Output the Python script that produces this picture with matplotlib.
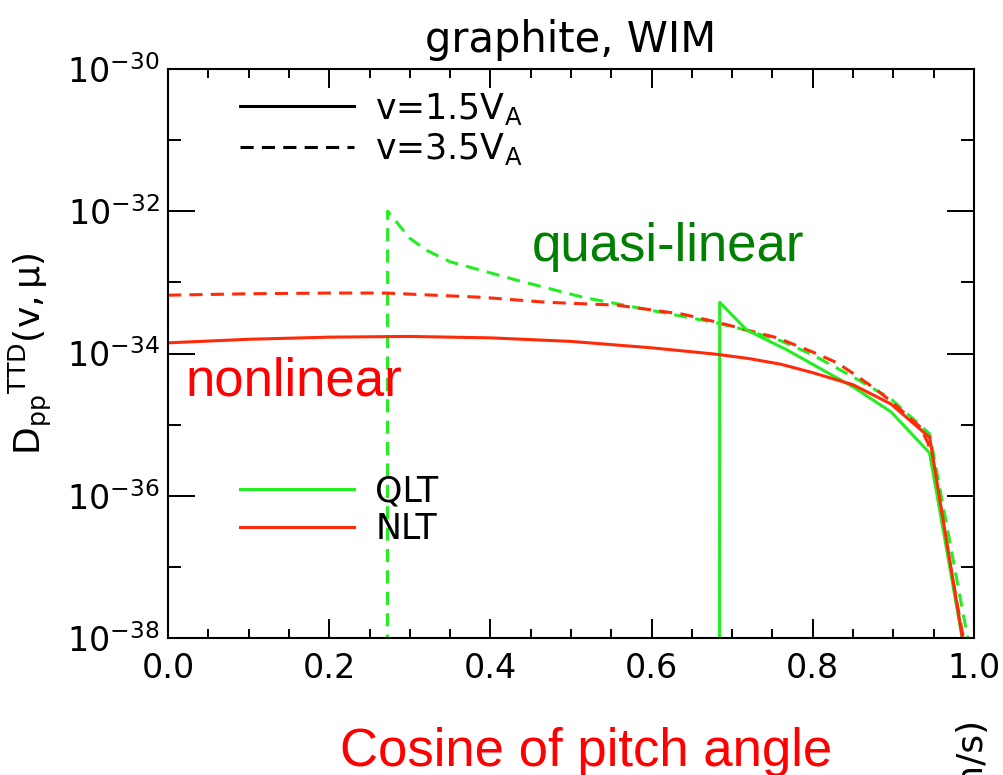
import matplotlib
matplotlib.use("Agg")
import matplotlib.pyplot as plt
from matplotlib.lines import Line2D
from matplotlib.ticker import FixedLocator, MultipleLocator, NullFormatter, FormatStrFormatter
import numpy as np

# ── data (log10 of D_pp) ──────────────────────────────────────────────
mu_nlt_15 = [0.0, 0.1, 0.2, 0.3, 0.4, 0.5, 0.6, 0.68, 0.72, 0.76, 0.80, 0.85,
             0.897, 0.945, 0.99]
lg_nlt_15 = [-33.85, -33.80, -33.77, -33.76, -33.78, -33.83, -33.92, -34.01,
             -34.07, -34.15, -34.27, -34.44, -34.71, -35.18, -38.3]

mu_nlt_35 = [0.0, 0.1, 0.2, 0.27, 0.39, 0.47, 0.557, 0.64, 0.685, 0.718, 0.756,
             0.80, 0.83, 0.85, 0.879, 0.90, 0.933, 0.943, 0.99]
lg_nlt_35 = [-33.18, -33.16, -33.15, -33.15, -33.21, -33.28, -33.32, -33.45, -33.57,
             -33.67, -33.78, -33.98, -34.13, -34.28, -34.51, -34.70, -35.03, -35.26, -38.2]

mu_qlt_15 = [0.684, 0.6845, 0.718, 0.768, 0.85, 0.897, 0.945, 0.99]
lg_qlt_15 = [-45.0, -33.28, -33.67, -33.95, -34.47, -34.82, -35.40, -38.3]

mu_qlt_35 = [0.272, 0.2725, 0.30, 0.321, 0.35, 0.433, 0.515, 0.598, 0.681,
             0.72, 0.76, 0.80, 0.85, 0.896, 0.945, 0.995]
lg_qlt_35 = [-45.0, -32.0, -32.38, -32.55, -32.71, -32.97, -33.21, -33.39, -33.57,
             -33.68, -33.82, -34.02, -34.33, -34.63, -35.13, -38.17]

y_major = [1e-38, 1e-36, 1e-34, 1e-32, 1e-30]
y_minor = [1e-37, 1e-35, 1e-33, 1e-31]

# ── style ────────────────────────────────────────────────────────────
GREEN = "#22ee22"
RED = "#ff2a0a"
DARK_GREEN = "#008000"
LW = 2.2
DASH = (4.3, 2.7)

plt.rcParams["font.family"] = "DejaVu Sans"

fig = plt.figure(figsize=(10.04, 7.75), dpi=100)
ax = fig.add_axes([168 / 1004, 137 / 775, 806 / 1004, 569 / 775])

ax.plot(mu_qlt_35, 10.0 ** np.array(lg_qlt_35), color=GREEN, lw=LW, dashes=DASH)
ax.plot(mu_nlt_35, 10.0 ** np.array(lg_nlt_35), color=RED, lw=LW, dashes=DASH)
ax.plot(mu_qlt_15, 10.0 ** np.array(lg_qlt_15), color=GREEN, lw=LW)
ax.plot(mu_nlt_15, 10.0 ** np.array(lg_nlt_15), color=RED, lw=LW)

ax.set_yscale("log")
ax.set_xlim(0, 1)
ax.set_ylim(1e-38, 1e-30)

ax.yaxis.set_major_locator(FixedLocator(y_major))
ax.yaxis.set_minor_locator(FixedLocator(y_minor))
ax.yaxis.set_minor_formatter(NullFormatter())
ax.xaxis.set_major_locator(MultipleLocator(0.2))
ax.xaxis.set_minor_locator(MultipleLocator(0.05))
ax.xaxis.set_major_formatter(FormatStrFormatter("%.1f"))

ax.tick_params(which="both", direction="in", top=True, right=True, width=1.4,
               labelsize=24)
ax.tick_params(axis="x", which="major", length=13.5, pad=10)
ax.tick_params(axis="x", which="minor", length=6.5)
ax.tick_params(axis="y", which="major", length=19.5, pad=6)
ax.tick_params(axis="y", which="minor", length=9.5)
for sp in ax.spines.values():
    sp.set_linewidth(1.5)

ax.set_title("graphite, WIM", fontsize=30, pad=12)
ax.set_ylabel(r"$\mathrm{D_{pp}{}^{TTD}(v,\mu)}$", fontsize=26)
ax.yaxis.set_label_coords(-0.142, 0.5)
ax.set_xlabel("Cosine of pitch angle", fontsize=38, color="#ff0000",
              family="Liberation Sans")
ax.xaxis.set_label_coords(0.519, -0.157)

# annotations
ax.text(0.62, 10 ** -32.5, "quasi-linear", color=DARK_GREEN, fontsize=38,
        family="Liberation Sans", ha="center", va="center")
ax.text(0.156, 10 ** -34.4, "nonlinear", color="#ff0000", fontsize=38,
        family="Liberation Sans", ha="center", va="center")

# legends
speed_handles = [
    Line2D([], [], color="black", lw=LW, label=r"v=1.5V$_\mathrm{A}$"),
    Line2D([], [], color="black", lw=LW, dashes=DASH, label=r"v=3.5V$_\mathrm{A}$"),
]
leg1 = ax.legend(handles=speed_handles, loc="upper left",
                 bbox_to_anchor=(0.089, 0.962), frameon=False, fontsize=25,
                 handlelength=3.3, handletextpad=0.6, labelspacing=0.12,
                 borderpad=0, borderaxespad=0)
ax.add_artist(leg1)

theory_handles = [
    Line2D([], [], color=GREEN, lw=LW, label="QLT"),
    Line2D([], [], color=RED, lw=LW, label="NLT"),
]
ax.legend(handles=theory_handles, loc="upper left",
          bbox_to_anchor=(0.089, 0.288), frameon=False, fontsize=25,
          handlelength=3.3, handletextpad=0.6, labelspacing=0.12,
          borderpad=0, borderaxespad=0)

# fragment of the neighbouring panel's label
fig.text(970 / 1004, 1 - 716 / 775, "(cm/s)", rotation=90, ha="center",
         va="top", fontsize=26)

fig.savefig("out.png", dpi=100, facecolor="white")
